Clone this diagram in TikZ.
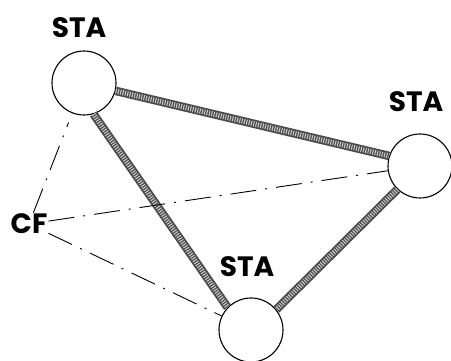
\documentclass[tikz,border=0pt]{standalone}
\usepackage{fontspec}
\setmainfont{Poppins}
\tikzset{
  sta/.style={circle, draw, minimum size=64pt, inner sep=0pt, line width=1.1pt},
  lbl/.style={font=\fontsize{28}{28}\selectfont\bfseries, inner sep=1pt},
  link/.style={line width=8.5pt, draw=black!70,
    postaction={draw, white!80!black, line width=5pt, dash pattern=on 1pt off 1.4pt}},
  ctrl/.style={line width=0.9pt, dash pattern=on 26pt off 9pt on 2pt off 9pt}
}
\begin{document}
\begin{tikzpicture}[x=1pt,y=1pt]
      \useasboundingbox (0,0) rectangle (451,361);
      \draw[line width=1.1pt]
        (84,278) node[sta] (ta){}
        (420,195) node[sta] (tr){}
        (251,31) node[sta] (tb){};
      \node[lbl] (la) at (79,333) {STA};
      \node[lbl] (lr) at (416,259) {STA};
      \node[lbl] (lb) at (247,94) {STA};
      \node[lbl, font=\fontsize{28}{28}\selectfont\bfseries] (cf) at (29,137) {CF};
      \begin{scope}[-]
        \draw[link] (ta.-14) to (tr.162);
        \draw[link] (ta.-73) to (tb.136);
        \draw[link] (tr.226) to (tb.39);
        \draw[ctrl, shorten >=10pt] (cf) to (ta);
        \draw[ctrl] (cf) to (tr);
        \draw[ctrl] (cf) to (tb);
      \end{scope}
    \end{tikzpicture}
\end{document}
